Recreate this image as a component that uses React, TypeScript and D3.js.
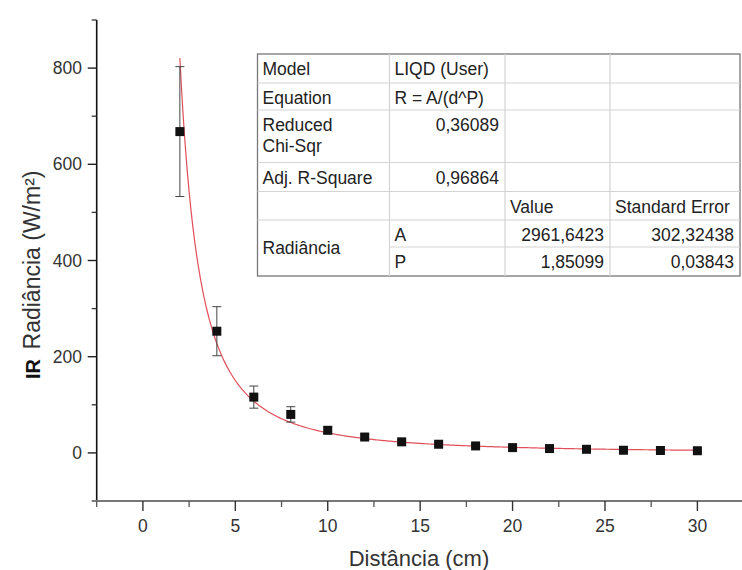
import React from "react";
import * as d3 from "d3";

// ---- data ----
const distances = [2, 4, 6, 8, 10, 12, 14, 16, 18, 20, 22, 24, 26, 28, 30];
const radiance = [668, 253, 116, 80, 47, 33, 23, 18, 14.5, 11, 9, 7.5, 5.5, 5, 4.5];
const radianceErr = [135, 51, 23, 16, 7, 5, 4, 3, 3, 2, 2, 2, 2, 2, 2];
const fitParamNames = ["A", "P"];
const fitParamValues = [2961.6423, 1.85099];
const xTicks = [0, 5, 10, 15, 20, 25, 30];
const yTicks = [0, 200, 400, 600, 800];

const tableCol1 = ["Model", "Equation", "Reduced\nChi-Sqr", "Adj. R-Square", "", "Radiância", ""];
const tableCol2 = ["LIQD (User)", "R = A/(d^P)", "0,36089", "0,96864", "", "A", "P"];
const tableCol3 = ["", "", "", "", "Value", "2961,6423", "1,85099"];
const tableCol4 = ["", "", "", "", "Standard Error", "302,32438", "0,03843"];

// ---- layout ----
const W = 742, H = 570;
const FONT = "'Liberation Sans', Arial, sans-serif";
const rowEdges = [54, 83, 110, 162.5, 191.5, 220, 247, 276];
const colEdges = [257.5, 389.5, 505, 610, 740];

export default function App() {
  const x = d3.scaleLinear().domain([-2.5, 32.5]).range([96.7, 743.6]);
  const y = d3.scaleLinear().domain([-100, 900]).range([501, 20]);

  const fitX = d3.range(2, 30.001, 0.1);
  const line = d3
    .line<number>()
    .x((d) => x(d))
    .y((d) => y(fitParamValues[0] / Math.pow(d, fitParamValues[1])))
    .curve(d3.curveLinear);

  const xMinor = d3.range(-2.5, 33, 2.5).filter((v) => !xTicks.includes(v));
  const yMinor = d3.range(-100, 901, 100).filter((v) => !yTicks.includes(v));

  const x0 = x(-2.5);
  const yBase = y(-100);

  const cellText = (
    col: number,
    row: number,
    text: string,
    align: "start" | "end",
    key: string,
    yOverride?: number
  ) => {
    if (!text) return null;
    const left = colEdges[col];
    const right = colEdges[col + 1];
    const tx = align === "start" ? left + 5 : right - 6;
    const lines = text.split("\n");
    const ty = yOverride ?? rowEdges[row] + 21;
    return (
      <text key={key} x={tx} y={ty} textAnchor={align} fontSize={17.5} fill="#222" fontFamily={FONT}>
        {lines.map((l, i) => (
          <tspan key={i} x={tx} dy={i === 0 ? 0 : 21}>
            {l}
          </tspan>
        ))}
      </text>
    );
  };

  return (
    <svg
      width={W}
      height={H}
      style={{ position: "absolute", left: 0, top: 0, background: "#fff" }}
      fontFamily={FONT}
    >
      <rect x={0} y={0} width={W} height={H} fill="#fff" />

      {/* fit curve */}
      <path d={line(fitX) || ""} fill="none" stroke="#e0505a" strokeWidth={1.2} />

      {/* error bars */}
      {distances.map((d, i) => {
        const cx = x(d);
        const yt = y(radiance[i] + radianceErr[i]);
        const yb = y(radiance[i] - radianceErr[i]);
        return (
          <g key={"e" + i} stroke="#444" strokeWidth={1}>
            <line x1={cx} x2={cx} y1={yt} y2={yb} />
            <line x1={cx - 4.5} x2={cx + 4.5} y1={yt} y2={yt} />
            <line x1={cx - 4.5} x2={cx + 4.5} y1={yb} y2={yb} />
          </g>
        );
      })}

      {/* markers */}
      {distances.map((d, i) => (
        <rect key={"m" + i} x={x(d) - 4.5} y={y(radiance[i]) - 4.5} width={9} height={9} fill="#111" />
      ))}

      {/* y axis */}
      <line x1={x0} x2={x0} y1={y(900)} y2={yBase} stroke="#111" strokeWidth={1.6} />
      {yTicks.map((t) => (
        <g key={"yt" + t}>
          <line x1={x0 - 9} x2={x0} y1={y(t)} y2={y(t)} stroke="#222" strokeWidth={1.4} />
          <text x={82} y={y(t) + 6} textAnchor="end" fontSize={17.5} fill="#333">
            {t}
          </text>
        </g>
      ))}
      {yMinor.map((t) => (
        <line key={"ym" + t} x1={x0 - 5} x2={x0} y1={y(t)} y2={y(t)} stroke="#333" strokeWidth={1.3} />
      ))}

      {/* x axis */}
      <line x1={x0 - 1} x2={W} y1={yBase} y2={yBase} stroke="#777" strokeWidth={2} />
      {xTicks.map((t) => (
        <g key={"xt" + t}>
          <line x1={x(t)} x2={x(t)} y1={yBase} y2={yBase + 10} stroke="#333" strokeWidth={1.4} />
          <text x={x(t)} y={yBase + 31} textAnchor="middle" fontSize={17.5} fill="#333">
            {t}
          </text>
        </g>
      ))}
      {xMinor.map((t) => (
        <line key={"xm" + t} x1={x(t)} x2={x(t)} y1={yBase} y2={yBase + 6} stroke="#555" strokeWidth={1.3} />
      ))}

      {/* axis titles */}
      <text transform={`translate(40, 260) rotate(-90)`} textAnchor="middle" fontSize={23} fill="#333">
        Radiância (W/m²)
      </text>
      <text
        transform={`translate(40, 369) rotate(-90)`}
        textAnchor="middle"
        fontSize={20}
        fontWeight="bold"
        fill="#111"
      >
        IR
      </text>
      <text x={419} y={566} textAnchor="middle" fontSize={22} fill="#333">
        Distância (cm)
      </text>

      {/* table */}
      <g>
        <rect
          x={colEdges[0]}
          y={rowEdges[0]}
          width={colEdges[4] - colEdges[0]}
          height={rowEdges[7] - rowEdges[0]}
          fill="#fff"
          stroke="#777"
          strokeWidth={1.3}
        />
        {rowEdges.slice(1, 6).map((r, i) => (
          <line key={"hr" + i} x1={colEdges[0]} x2={colEdges[4]} y1={r} y2={r} stroke="#d4d4d4" strokeWidth={1.2} />
        ))}
        <line x1={colEdges[1]} x2={colEdges[4]} y1={rowEdges[6]} y2={rowEdges[6]} stroke="#d4d4d4" strokeWidth={1.2} />
        {colEdges.slice(1, 4).map((c, i) => (
          <line key={"vc" + i} x1={c} x2={c} y1={rowEdges[0]} y2={rowEdges[7]} stroke="#d4d4d4" strokeWidth={1.2} />
        ))}
        {tableCol1.map((t, i) =>
          cellText(0, i, t, "start", "c1" + i, i === 5 ? (rowEdges[5] + rowEdges[7]) / 2 + 6 : undefined)
        )}
        {tableCol2.map((t, i) => cellText(1, i, t, i === 2 || i === 3 ? "end" : "start", "c2" + i))}
        {tableCol3.map((t, i) => cellText(2, i, t, i === 4 ? "start" : "end", "c3" + i))}
        {tableCol4.map((t, i) => cellText(3, i, t, i === 4 ? "start" : "end", "c4" + i))}
      </g>
      <desc>{fitParamNames.join(",")}</desc>
    </svg>
  );
}
